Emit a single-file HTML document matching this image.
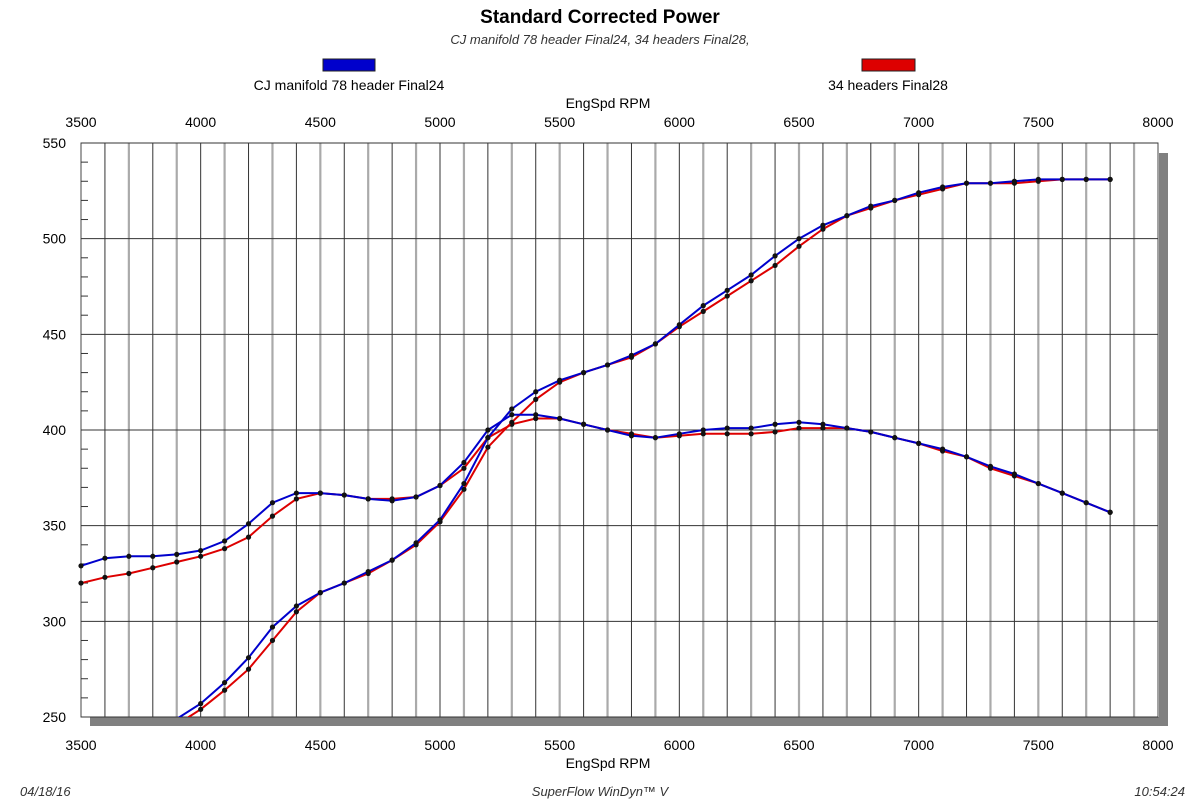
<!DOCTYPE html>
<html><head><meta charset="utf-8"><style>
body{margin:0;background:#fff;width:1200px;height:801px;overflow:hidden;font-family:"Liberation Sans",sans-serif}
svg text{font-family:"Liberation Sans",sans-serif}
</style></head><body>
<svg id="c" width="1200" height="801">
<text x="600" y="23" text-anchor="middle" font-size="19" font-weight="bold">Standard Corrected Power</text>
<text x="600" y="44" text-anchor="middle" font-size="13" font-style="italic" fill="#333">CJ manifold 78 header Final24, 34 headers Final28,</text>
<rect x="323" y="59" width="52" height="12" fill="#0000cc" stroke="#222"/>
<text x="349" y="90" text-anchor="middle" font-size="14">CJ manifold 78 header Final24</text>
<rect x="862" y="59" width="53" height="12" fill="#dd0000" stroke="#222"/>
<text x="888" y="90" text-anchor="middle" font-size="14">34 headers Final28</text>
<text x="608" y="108" text-anchor="middle" font-size="14">EngSpd RPM</text>
<text x="608" y="768" text-anchor="middle" font-size="14">EngSpd RPM</text>
<text x="20" y="796" font-size="13" font-style="italic" fill="#333">04/18/16</text>
<text x="600" y="796" text-anchor="middle" font-size="13" font-style="italic" fill="#333">SuperFlow WinDyn™ V</text>
<text x="1185" y="796" text-anchor="end" font-size="13" font-style="italic" fill="#333">10:54:24</text>
<g id="g"></g>
</svg>
<script>
const rpm=[3500,3600,3700,3800,3900,4000,4100,4200,4300,4400,4500,4600,4700,4800,4900,5000,5100,5200,5300,5400,5500,5600,5700,5800,5900,6000,6100,6200,6300,6400,6500,6600,6700,6800,6900,7000,7100,7200,7300,7400,7500,7600,7700,7800];
const blueTorque=[329,333,334,334,335,337,342,351,362,367,367,366,364,363,365,371,383,400,408,408,406,403,400,397,396,398,400,401,401,403,404,403,401,399,396,393,390,386,381,377,372,367,362,357];
const redTorque=[320,323,325,328,331,334,338,344,355,364,367,366,364,364,365,371,380,396,403,406,406,403,400,398,396,397,398,398,398,399,401,401,401,399,396,393,389,386,380,376,372,367,362,357];
const bluePower=[217,228,236,242,249,257,268,281,297,308,315,320,326,332,341,353,372,396,411,420,426,430,434,439,445,455,465,473,481,491,500,507,512,517,520,524,527,529,529,530,531,531,531,531];
const redPower=[210,219,226,233,246,254,264,275,290,305,315,320,325,332,340,352,369,391,404,416,425,430,434,438,445,454,462,470,478,486,496,505,512,516,520,523,526,529,529,529,530,531,531,531];
const xTicks=[3500,4000,4500,5000,5500,6000,6500,7000,7500,8000];
const yTicks=[250,300,350,400,450,500,550];
const X0=81,X1=1158,Y0=717,Y1=143;
const xs=v=>X0+(v-3500)/(8000-3500)*(X1-X0);
const ys=v=>Y0-(v-250)/(550-250)*(Y0-Y1);
const NS="http://www.w3.org/2000/svg";
const g=document.getElementById('g');
function mk(t,a){const e=document.createElementNS(NS,t);for(const k in a)e.setAttribute(k,a[k]);g.appendChild(e);return e;}
// shadows
let e=mk('rect',{x:90,y:717,width:1078,height:9,fill:'#808080'});


e=mk('rect',{x:1159,y:153,width:9,height:573,fill:'#808080'});


e=mk('rect',{x:X0,y:Y1,width:X1-X0,height:Y0-Y1,fill:'#fff',stroke:'#444'});


for(let r=3600;r<8000;r+=100){
  const odd=(r/100)%2===1;
  e=mk('line',{x1:xs(r),x2:xs(r),y1:Y1,y2:Y0,stroke:odd?'#aaa':'#333','stroke-width':odd?2.2:1});
  
  
}
yTicks.forEach(v=>{
  e=mk('line',{x1:X0,x2:X1,y1:ys(v),y2:ys(v),stroke:'#333','stroke-width':1});
  
  
  e=mk('text',{x:66,y:ys(v)+5,'text-anchor':'end','font-size':14});
  e.textContent=v;
  
  
});
for(let v=260;v<550;v+=10){if(v%50){e=mk('line',{x1:X0,x2:X0+7,y1:ys(v),y2:ys(v),stroke:'#333'});
  
  }}
xTicks.forEach(v=>{
  [127,750].forEach(yy=>{
    e=mk('text',{x:xs(v),y:yy,'text-anchor':'middle','font-size':14});
    e.textContent=v;
    
    
  });
});
mk('clipPath',{id:'cp'}).appendChild(Object.assign(document.createElementNS(NS,'rect'),{}));
const cr=g.lastChild.firstChild;cr.setAttribute('x',X0);cr.setAttribute('y',Y1);cr.setAttribute('width',X1-X0);cr.setAttribute('height',Y0-Y1);
function series(vals,col,name){
  const d=vals.map((v,i)=>(i?'L':'M')+xs(rpm[i]).toFixed(1)+','+ys(v).toFixed(1)).join('');
  e=mk('path',{d:d,fill:'none',stroke:col,'stroke-width':2,'clip-path':'url(#cp)'});
  
  
  vals.forEach((v,i)=>{if(v>=250){
    e=mk('circle',{cx:xs(rpm[i]),cy:ys(v),r:2.6,fill:'#111'});
    
    
  }});
}
series(redTorque,'#dd0000','red-torque-line');
series(redPower,'#dd0000','red-power-line');
series(blueTorque,'#0000cc','blue-torque-line');
series(bluePower,'#0000cc','blue-power-line');
</script>
</body></html>
